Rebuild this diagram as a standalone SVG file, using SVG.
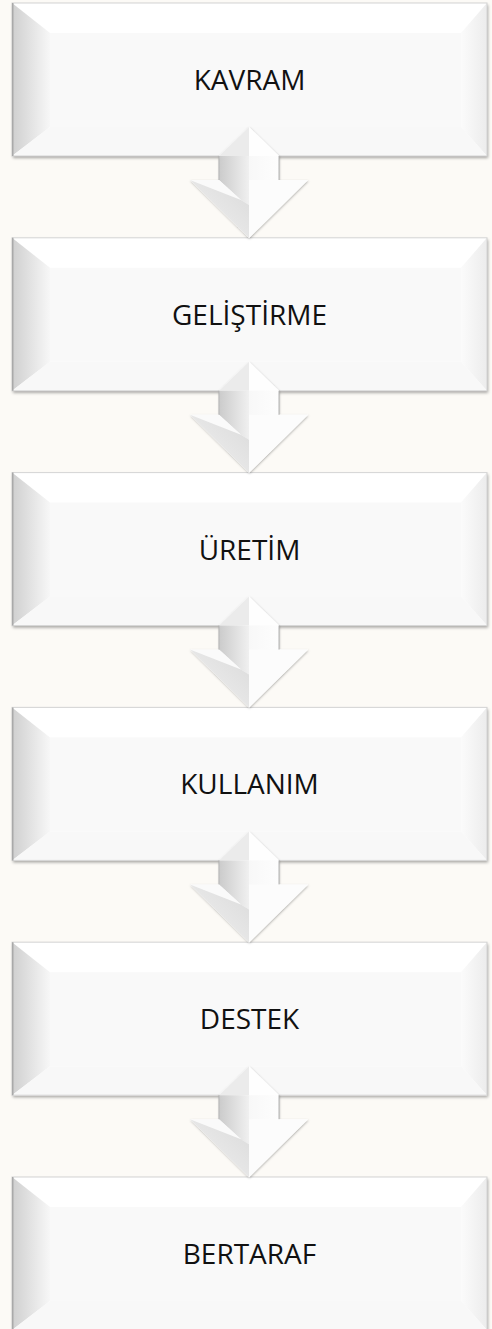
<svg xmlns="http://www.w3.org/2000/svg" xmlns:xlink="http://www.w3.org/1999/xlink" width="492" height="1329" viewBox="0 0 492 1329">
<defs>
<style>
.lbl{font-family:"Open Sans","Liberation Sans",sans-serif;font-size:28px;fill:#111;text-anchor:middle}
</style>
<filter id="sh" x="-5%" y="-5%" width="112%" height="120%">
<feDropShadow dx="1" dy="2" stdDeviation="1.6" flood-color="#000" flood-opacity="0.35"/>
</filter>
<filter id="ash" x="-20%" y="-20%" width="140%" height="140%">
<feDropShadow dx="0.5" dy="1" stdDeviation="1" flood-color="#000" flood-opacity="0.3"/>
</filter>
<linearGradient id="lb" x1="0" y1="0" x2="1" y2="0">
<stop offset="0" stop-color="#cfcfcf"/><stop offset="1" stop-color="#f7f7f7"/>
</linearGradient>
<linearGradient id="rb" x1="0" y1="0" x2="1" y2="0">
<stop offset="0" stop-color="#fbfbfb"/><stop offset="1" stop-color="#ececec"/>
</linearGradient>
<linearGradient id="sl" x1="0" y1="0" x2="1" y2="0">
<stop offset="0" stop-color="#cbcbcb"/><stop offset="1" stop-color="#f0f0f0"/>
</linearGradient>
<linearGradient id="sr" x1="0" y1="0" x2="1" y2="0">
<stop offset="0" stop-color="#f8f8f8"/><stop offset="1" stop-color="#fdfdfd"/>
</linearGradient>
<linearGradient id="hl" x1="1" y1="0" x2="0" y2="1">
<stop offset="0" stop-color="#dadada"/><stop offset="0.5" stop-color="#e6e6e6"/><stop offset="1" stop-color="#f4f4f4"/>
</linearGradient>
<symbol id="box" overflow="visible">
<rect x="0" y="0" width="475" height="153" fill="#fdfdfd" filter="url(#sh)"/>
<polygon points="0,0 475,0 449,30 38,30" fill="#ffffff"/>
<polygon points="0,0 38,30 38,124 0,153" fill="url(#lb)"/>
<polygon points="475,0 475,153 449,124 449,30" fill="url(#rb)"/>
<polygon points="0,153 38,124 449,124 475,153" fill="#f8f8f8"/>
<rect x="38" y="30" width="411" height="94" fill="#f9f9f9"/>
<rect x="0" y="0" width="475" height="153" fill="none" stroke="#d4d4d4" stroke-width="1"/>
<line x1="0.75" y1="0" x2="0.75" y2="153" stroke="#a9a9a9" stroke-width="1.5"/>
</symbol>
<symbol id="arrow" overflow="visible">
<g filter="url(#ash)">
<polygon points="219,156 249,127 279,156 279,180 308,180 249,238 190,180 219,180" fill="#fcfcfc"/>
</g>
<polygon points="219,156 249,127 249,156" fill="#ebebeb"/>
<polygon points="249,127 279,156 249,156" fill="#fefefe"/>
<polygon points="249,156 279,156 279,180 249,205" fill="url(#sr)"/>
<polygon points="249,180 308,180 249,238" fill="#fcfcfc"/>
<polygon points="219,156 249,156 249,205 241,200 219,180" fill="url(#sl)"/>
<polygon points="190,180 219,180 241,200" fill="#fafafa"/>
<polygon points="190,180 241,200 249,205 249,238" fill="url(#hl)"/>
<line x1="219" y1="156" x2="219" y2="180" stroke="#b5b5b5" stroke-width="1"/>
<line x1="279" y1="156" x2="279" y2="180" stroke="#b5b5b5" stroke-width="1"/>
</symbol>
</defs>
<rect x="0" y="0" width="492" height="1329" fill="#fcfaf6"/>
<g id="node-kavram" transform="translate(12,3)">
<use xlink:href="#box"/>
<text class="lbl" x="237.5" y="87">KAVRAM</text>
</g>
<g id="node-gelistirme" transform="translate(12,237.8)">
<use xlink:href="#box"/>
<text class="lbl" x="237.5" y="87">GELİŞTİRME</text>
</g>
<g id="node-uretim" transform="translate(12,472.6)">
<use xlink:href="#box"/>
<text class="lbl" x="237.5" y="87">ÜRETİM</text>
</g>
<g id="node-kullanim" transform="translate(12,707.4)">
<use xlink:href="#box"/>
<text class="lbl" x="237.5" y="87">KULLANIM</text>
</g>
<g id="node-destek" transform="translate(12,942.2)">
<use xlink:href="#box"/>
<text class="lbl" x="237.5" y="87">DESTEK</text>
</g>
<g id="node-bertaraf" transform="translate(12,1177)">
<use xlink:href="#box"/>
<text class="lbl" x="237.5" y="87">BERTARAF</text>
</g>
<g id="connectors">
<use xlink:href="#arrow"/>
<use xlink:href="#arrow" transform="translate(0,234.8)"/>
<use xlink:href="#arrow" transform="translate(0,469.6)"/>
<use xlink:href="#arrow" transform="translate(0,704.4)"/>
<use xlink:href="#arrow" transform="translate(0,939.2)"/>
</g>
</svg>
